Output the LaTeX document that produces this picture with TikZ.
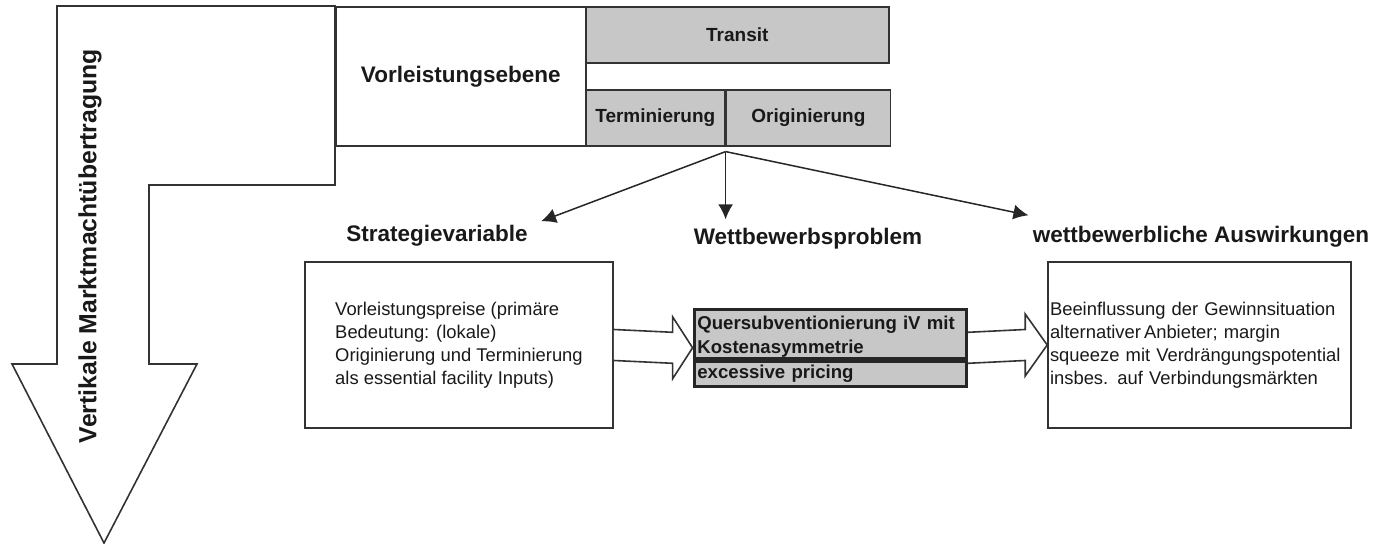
\documentclass[tikz,border=0pt]{standalone}
\usepackage{fontspec}
\setmainfont{Liberation Sans}
\usetikzlibrary{arrows.meta,calc,fit}

\tikzset{
  linie/.style={draw=black!80, line width=0.8pt},
  kopf/.style={font=\fontsize{11.25}{13}\selectfont\bfseries, text=black!90, inner sep=0pt},
  grau/.style={linie, fill=black!22, font=\fontsize{9.5}{11}\selectfont\bfseries, text=black!90, inner sep=0pt},
  mittel/.style={draw=black!85, line width=1.4pt, fill=black!22, font=\fontsize{9.3}{12}\selectfont\bfseries,
    text=black!90, inner xsep=1.5pt, inner ysep=0pt, text width=133pt, align=left},
  textbox/.style={linie, font=\fontsize{9.2}{11.5}\selectfont, text=black!90, align=left},
  pfeil/.style={draw=black!85, line width=0.75pt, -{Latex[length=7.5pt,width=7.5pt]}}
}

% Blockpfeil zwischen zwei Kaesten
\newcommand{\blockpfeil}[3]{%
  \draw[linie, fill=white] ($(#1.east)+(0,-15.5)$) -- ($(#2.west)+(-#3,-15.5)$)
    -- ($(#2.west)+(-#3,-31)$) -- (#2.west) -- ($(#2.west)+(-#3,31)$)
    -- ($(#2.west)+(-#3,15.5)$) -- ($(#1.east)+(0,15.5)$);}

\begin{document}
\begin{tikzpicture}[x=0.5pt, y=-0.5pt]
  \useasboundingbox (0,0) rectangle (1378,544);

  % abgewinkelter Pfeil
  \draw[linie, fill=white] (57,6) -- (335,6) -- (335,185) -- (149,185) -- (149,364)
    -- (197,364) -- (104,543) -- (12,364) -- (57,364) -- cycle;
  \node[kopf, rotate=90, font=\fontsize{12.4}{14}\selectfont\bfseries] (vertikal) at (90,246)
    {Vertikale Marktmachtübertragung};

  % Vorleistungsebene
  \node[linie, kopf, minimum width=125pt, minimum height=69.5pt, anchor=north west] (ebene) at (335,6)
    {Vorleistungsebene};
  \node[grau, minimum width=151.5pt, minimum height=28pt, anchor=north west] (transit) at (585,6) {Transit};
  \node[grau, minimum width=69.5pt, minimum height=28pt, anchor=north west] (term) at (585,89) {Terminierung};
  \node[grau, minimum width=82pt, minimum height=28pt, anchor=west] (orig) at (term.east) {Originierung};

  % Ueberschriften
  \node[kopf, anchor=base] (strategie) at (437,242) {Strategievariable};
  \node[kopf, anchor=base] (problem) at (808,245) {Wettbewerbsproblem};
  \node[kopf, anchor=base] (wirkung) at (1201,243) {wettbewerbliche Auswirkungen};

  \coordinate (quelle) at ($(term.south east)+(0,5)$);
  \coordinate (spitzelinks) at ($(strategie.north east)+(13,-4)$);
  \coordinate (spitzemitte) at ($(quelle |- problem.north)+(0,-9)$);
  \coordinate (spitzerechts) at ($(wirkung.north west)+(-4,-11)$);
  \draw[pfeil] (quelle) -- (spitzelinks);
  \draw[pfeil] (quelle) -- (spitzemitte);
  \draw[pfeil] (quelle) -- (spitzerechts);

  % Kaesten unten
  \node[textbox, minimum width=154pt, minimum height=83pt] (strat) at (459,345)
    {Vorleistungspreise (primäre\\Bedeutung: (lokale)\\Originierung und Terminierung\\als essential facility Inputs)};
  \node[mittel, minimum height=24.5pt, anchor=north west] (quer) at (693,308)
    {\rule{0pt}{9.5pt}Quersubventionierung iV mit\\Kostenasymmetrie};
  \node[mittel, minimum height=12.5pt, anchor=north west] (excessive) at (quer.south west)
    {excessive pricing};
  \node[fit=(quer)(excessive), inner sep=0pt] (problembox) {};
  \node[textbox, minimum height=83pt, text width=149.5pt, inner xsep=1pt] (auswirkung) at (1199.5,345)
    {Beeinflussung der Gewinnsituation\\alternativer\kern1.5pt Anbieter; margin\\squeeze mit Verdrängungspotential\\insbes. auf Verbindungsmärkten};

  \blockpfeil{strat}{problembox}{20}
  \blockpfeil{problembox}{auswirkung}{22}
\end{tikzpicture}
\end{document}
